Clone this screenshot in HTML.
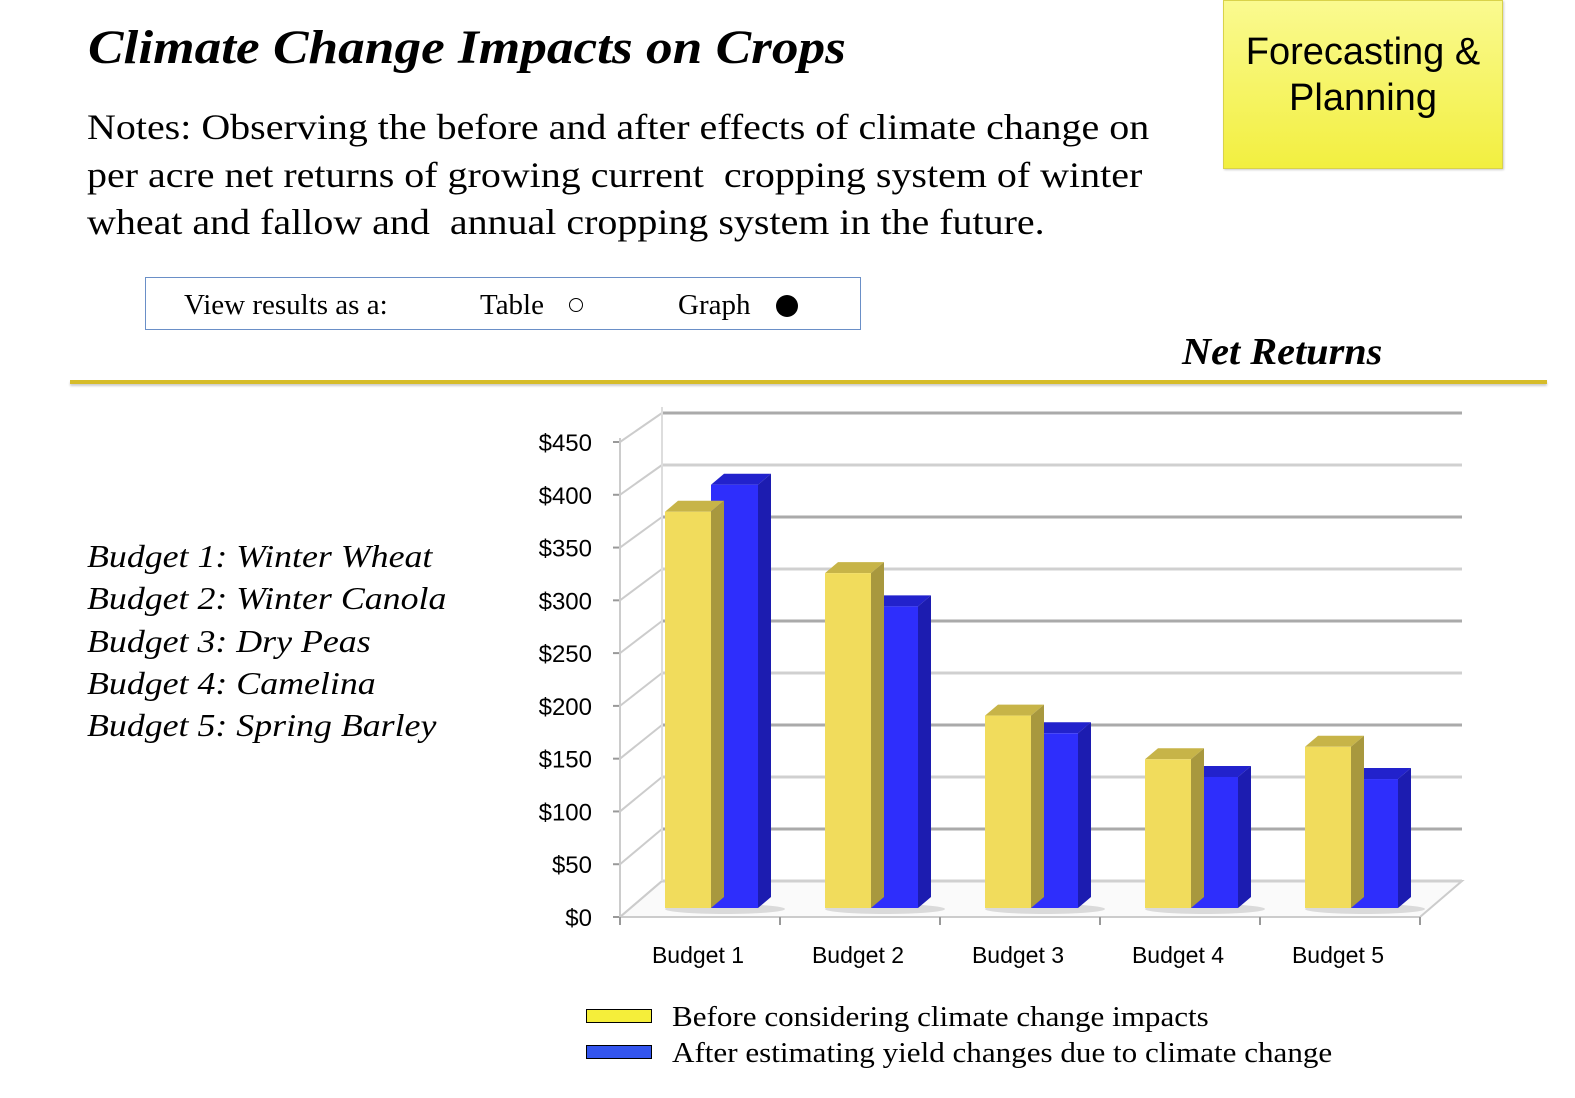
<!DOCTYPE html>
<html><head><meta charset="utf-8">
<style>
body{margin:0;width:1575px;height:1098px;background:#fff;position:relative;overflow:hidden;font-family:"Liberation Serif",serif;}
.abs{position:absolute;white-space:nowrap;}
.sx{transform-origin:0 0;}
</style></head>
<body>
<div class="abs sx" style="left:88px;top:20px;font-size:48px;font-style:italic;font-weight:bold;transform:scaleX(1.11);">Climate Change Impacts on Crops</div>
<div class="abs sx" style="left:87px;top:104px;font-size:36px;line-height:47.5px;transform:scaleX(1.11);">Notes: Observing the before and after effects of climate change on<br>per acre net returns of growing current&nbsp; cropping system of winter<br>wheat and fallow and&nbsp; annual cropping system in the future.</div>
<div class="abs" style="left:1223px;top:0;width:280px;height:169px;background:linear-gradient(#fafa90,#f2ef40);border:1px solid #d9d24a;box-shadow:1px 1px 2px #ccc;text-align:center;font-family:'Liberation Sans',sans-serif;font-size:38px;line-height:46px;padding-top:28px;box-sizing:border-box;">Forecasting &amp;<br>Planning</div>
<div class="abs" style="left:145px;top:277px;width:716px;height:53px;border:1.5px solid #6a8fc7;box-sizing:border-box;font-size:29px;">
<span class="abs" style="left:38px;top:11px;">View results as a:</span>
<span class="abs" style="left:334px;top:11px;">Table <span style="display:inline-block;width:12px;height:12px;border:1.5px solid #000;border-radius:50%;margin-left:18px;vertical-align:2px;"></span></span>
<span class="abs" style="left:532px;top:11px;">Graph <span style="display:inline-block;width:22px;height:22px;background:#000;border-radius:50%;margin-left:18px;vertical-align:-3px;"></span></span>
</div>
<div class="abs sx" style="left:1182px;top:330px;font-size:38px;font-style:italic;font-weight:bold;transform:scaleX(1.06);">Net Returns</div>
<div class="abs" style="left:70px;top:380px;width:1477px;height:4px;background:#d6bc2a;box-shadow:0 2px 2px #ccc;"></div>
<div class="abs sx" style="left:87px;top:535px;font-size:32px;font-style:italic;line-height:42.3px;transform:scaleX(1.12);">Budget 1: Winter Wheat<br>Budget 2: Winter Canola<br>Budget 3: Dry Peas<br>Budget 4: Camelina<br>Budget 5: Spring Barley</div>

<svg id="chart" class="abs" style="left:0;top:0" width="1575" height="1098"></svg>

<div class="abs" style="left:586px;top:1000px;font-size:28px;line-height:36px;">
<div><span style="display:inline-block;width:64px;height:12px;background:#f5ee3a;border:1.5px solid #000;margin-right:20px;vertical-align:3px;"></span><span class="sx" style="display:inline-block;transform:scaleX(1.11);">Before considering climate change impacts</span></div>
<div><span style="display:inline-block;width:64px;height:12px;background:#3355ee;border:1.5px solid #000;margin-right:20px;vertical-align:3px;"></span><span class="sx" style="display:inline-block;transform:scaleX(1.11);">After estimating yield changes due to climate change</span></div>
</div>

<script>
const categories=["Budget 1","Budget 2","Budget 3","Budget 4","Budget 5"];
const beforeValues=[381,322,185,143,155];
const afterValues=[407,290,168,126,124];
const tickValues=[0,50,100,150,200,250,300,350,400,450];
const tickLabels=["$0","$50","$100","$150","$200","$250","$300","$350","$400","$450"];

const NS="http://www.w3.org/2000/svg";
const svg=document.getElementById('chart');
function mk(tag,attrs,parent){const e=document.createElementNS(NS,tag);for(const k in attrs)e.setAttribute(k,attrs[k]);(parent||svg).appendChild(e);return e;}
const fx0=620,fx1=1420,fy0=917,fscale=475/450;
const dx=42,dy=-36;
const bscale=1.04;
function yFront(v){return fy0-v*fscale;}
function yBack(v){return fy0+dy-v*bscale;}
function yBar(v){return 908-v*bscale;}
function xCat(i){return fx0+i*(fx1-fx0)/categories.length;}

const floor=mk('polygon',{points:`${fx0},${fy0} ${fx1},${fy0} ${fx1+dx},${fy0+dy} ${fx0+dx},${fy0+dy}`,fill:'#fafafa',stroke:'#ccc','stroke-width':2});


tickValues.forEach((v,i)=>{
  const g=mk('line',{x1:fx0+dx,y1:yBack(v),x2:fx1+dx,y2:yBack(v),stroke:(i%2?'#aaa':'#d0d0d0'),'stroke-width':3});
  
  
  const d=mk('line',{x1:fx0,y1:yFront(v),x2:fx0+dx,y2:yBack(v),stroke:'#ccc','stroke-width':2});
  
  
  const t=mk('line',{x1:fx0-7,y1:yFront(v),x2:fx0,y2:yFront(v),stroke:'#999','stroke-width':2});
  
  
  const l=mk('text',{x:592,y:yFront(v)+9,'text-anchor':'end','font-family':'Liberation Sans, sans-serif','font-size':24});
  l.textContent=tickLabels[i];
  
  
});
const ax=mk('line',{x1:fx0,y1:yFront(450)-4,x2:fx0,y2:fy0,stroke:'#ccc','stroke-width':2});


const wall=mk('line',{x1:fx0+dx,y1:yBack(450)-6,x2:fx0+dx,y2:yBack(0),stroke:'#ddd','stroke-width':2});


for(let i=0;i<=categories.length;i++){
  const t=mk('line',{x1:xCat(i),y1:fy0,x2:xCat(i),y2:fy0+8,stroke:'#999','stroke-width':2});
  
  
}
function bar(x,w,v,front,top,side,name){
  const g=mk('g',{});
  
  
  const yt=yBar(v),yb=yBar(0),d=13,h=11;
  mk('polygon',{points:`${x},${yt} ${x+d},${yt-h} ${x+w+d},${yt-h} ${x+w},${yt}`,fill:top},g);
  mk('polygon',{points:`${x+w},${yt} ${x+w+d},${yt-h} ${x+w+d},${yb-h} ${x+w},${yb}`,fill:side},g);
  mk('rect',{x:x,y:yt,width:w,height:yb-yt,fill:front},g);
}
categories.forEach((c,i)=>{
  const x=xCat(i)+45;
  const sh=mk('ellipse',{cx:x+60,cy:yBar(0)+1,rx:60,ry:5,fill:'#ccc',opacity:0.7});
  
  
  bar(x+46,47,afterValues[i],'#2e2efc','#2222cc','#1c1cb0','bar-after-'+(i+1));
  bar(x,46,beforeValues[i],'#f1dc5c','#c7b448','#a8983e','bar-before-'+(i+1));
  const l=mk('text',{x:xCat(i)+78,y:963,'text-anchor':'middle','font-family':'Liberation Sans, sans-serif','font-size':23});
  l.textContent=c;
  
  
});
</script>
</body></html>
